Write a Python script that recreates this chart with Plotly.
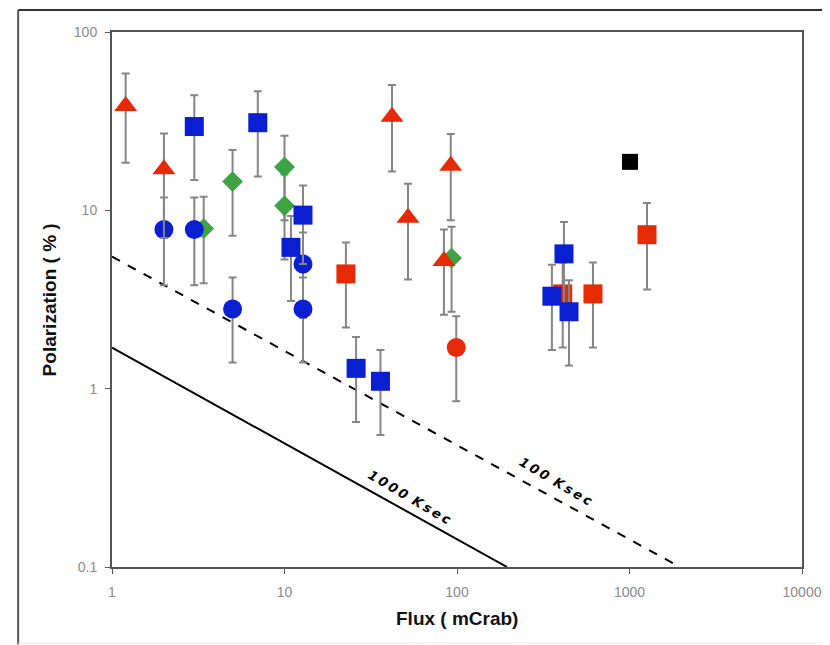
import plotly.graph_objects as go

# ---- data ----
tri_x = [1.2, 2.0, 42, 52, 92, 84]
tri_y = [38.5, 17.0, 33.5, 9.1, 17.8, 5.2]
tri_e = [20, 10, 17, 5, 9, 2.6]

dia_x = [3.4, 5.0, 10.0, 10.0, 93]
dia_y = [7.9, 14.5, 17.5, 10.6, 5.4]
dia_e = [4.0, 7.3, 8.7, 5.3, 2.7]

bcirc_x = [2.0, 3.0, 5.0, 12.8, 12.8]
bcirc_y = [7.8, 7.8, 2.8, 5.0, 2.8]
bcirc_e = [4.0, 4.0, 1.4, 2.5, 1.4]

rcirc_x = [99]
rcirc_y = [1.7]
rcirc_e = [0.85]

bsq_x = [3.0, 7.0, 12.8, 10.9, 26, 36, 355, 417, 446]
bsq_y = [29.5, 31.0, 9.4, 6.2, 1.3, 1.1, 3.3, 5.7, 2.7]
bsq_e = [14.7, 15.5, 4.4, 3.1, 0.65, 0.55, 1.65, 2.9, 1.35]

rsq_x = [22.7, 410, 614, 1263]
rsq_y = [4.4, 3.4, 3.4, 7.3]
rsq_e = [2.2, 1.7, 1.7, 3.7]

ksq_x = [1007]
ksq_y = [18.7]

line100_x = [1, 1963]
line100_y = [5.5, 0.1]
line1000_x = [1, 195]
line1000_y = [1.7, 0.1]

x_ticks = [1, 10, 100, 1000, 10000]
x_tick_text = ["1", "10", "100", "1000", "10000"]
y_ticks = [0.1, 1, 10, 100]
y_tick_text = ["0.1", "1", "10", "100"]

RED = "#e62a05"
BLUE = "#0a1fd2"
GREEN = "#3da443"
ERR = "#858585"

def eb(vals):
    return dict(type="data", array=vals, visible=True, color=ERR,
                thickness=2, width=4)

fig = go.Figure()

fig.add_trace(go.Scatter(x=line100_x, y=line100_y, mode="lines",
                         line=dict(color="black", width=2, dash="dash"),
                         showlegend=False, hoverinfo="skip"))
fig.add_trace(go.Scatter(x=line1000_x, y=line1000_y, mode="lines",
                         line=dict(color="black", width=2),
                         showlegend=False, hoverinfo="skip"))

fig.add_trace(go.Scatter(x=dia_x, y=dia_y, mode="markers", error_y=eb(dia_e),
                         marker=dict(symbol="diamond", size=16, color=GREEN),
                         showlegend=False))
fig.add_trace(go.Scatter(x=bcirc_x, y=bcirc_y, mode="markers", error_y=eb(bcirc_e),
                         marker=dict(symbol="circle", size=19, color=BLUE),
                         showlegend=False))
fig.add_trace(go.Scatter(x=rsq_x, y=rsq_y, mode="markers", error_y=eb(rsq_e),
                         marker=dict(symbol="square", size=19, color=RED),
                         showlegend=False))
fig.add_trace(go.Scatter(x=bsq_x, y=bsq_y, mode="markers", error_y=eb(bsq_e),
                         marker=dict(symbol="square", size=19, color=BLUE),
                         showlegend=False))
fig.add_trace(go.Scatter(x=tri_x, y=tri_y, mode="markers", error_y=eb(tri_e),
                         marker=dict(symbol="triangle-up", size=20, color=RED),
                         showlegend=False))
fig.add_trace(go.Scatter(x=rcirc_x, y=rcirc_y, mode="markers", error_y=eb(rcirc_e),
                         marker=dict(symbol="circle", size=19, color=RED),
                         showlegend=False))
fig.add_trace(go.Scatter(x=ksq_x, y=ksq_y, mode="markers",
                         marker=dict(symbol="square", size=16, color="black"),
                         showlegend=False))

tick_font = dict(family="Liberation Sans, Arial, sans-serif", size=14, color="#8a8a8a")

fig.update_xaxes(type="log", range=[0, 4], tickvals=x_ticks, ticktext=x_tick_text,
                 showgrid=False, zeroline=False, showline=True, mirror=True,
                 linecolor="#555", linewidth=2, ticks="outside", ticklen=5,
                 tickcolor="#555", tickfont=tick_font, ticklabelstandoff=6,
                 automargin=False)
fig.update_yaxes(type="log", range=[-1, 2], tickvals=y_ticks, ticktext=y_tick_text,
                 showgrid=False, zeroline=False, showline=True, mirror=True,
                 linecolor="#555", linewidth=2, ticks="outside", ticklen=5,
                 tickcolor="#555", tickfont=tick_font, ticklabelstandoff=5,
                 automargin=False)

title_font = dict(family="Liberation Sans, Arial, sans-serif", size=19, color="#111")
lbl_font = dict(family="DejaVu Sans, sans-serif", size=13, color="black")
TS = "\u2009"
annots = [
    dict(text="<b>Flux ( mCrab)</b>", xref="paper", yref="paper",
         x=0.5, y=-0.097, xanchor="center", yanchor="middle",
         showarrow=False, font=title_font),
    dict(text="<b>Polarization ( % )</b>", xref="paper", yref="paper",
         x=-0.09, y=0.5, xanchor="center", yanchor="middle", textangle=-90,
         showarrow=False, font=title_font),
    dict(text="<b><i>" + TS.join("1000") + TS + " " + TS.join("Ksec") + "</i></b>",
         xref="x", yref="y", x=1.728, y=-0.608, textangle=30.5, showarrow=False,
         font=lbl_font),
    dict(text="<b><i>" + TS.join("100") + TS + " " + TS.join("Ksec") + "</i></b>",
         xref="x", yref="y", x=2.574, y=-0.519, textangle=30.5, showarrow=False,
         font=lbl_font),
]

shapes = [
    dict(type="line", xref="paper", yref="paper", x0=-0.136, x1=1.06,
         y0=1.0411, y1=1.0411, line=dict(color="#333", width=2)),
    dict(type="line", xref="paper", yref="paper", x0=-0.136, x1=-0.136,
         y0=1.0411, y1=-0.145, line=dict(color="#555", width=2)),
    dict(type="line", xref="paper", yref="paper", x0=-0.136, x1=1.06,
         y0=-0.142, y1=-0.142, line=dict(color="#e6e6e6", width=1)),
]

fig.update_layout(
    width=822, height=637,
    margin=dict(l=104, r=28, t=24, b=78, autoexpand=False),
    paper_bgcolor="white", plot_bgcolor="white",
    annotations=annots, shapes=shapes,
)

fig.write_html("out.html")
